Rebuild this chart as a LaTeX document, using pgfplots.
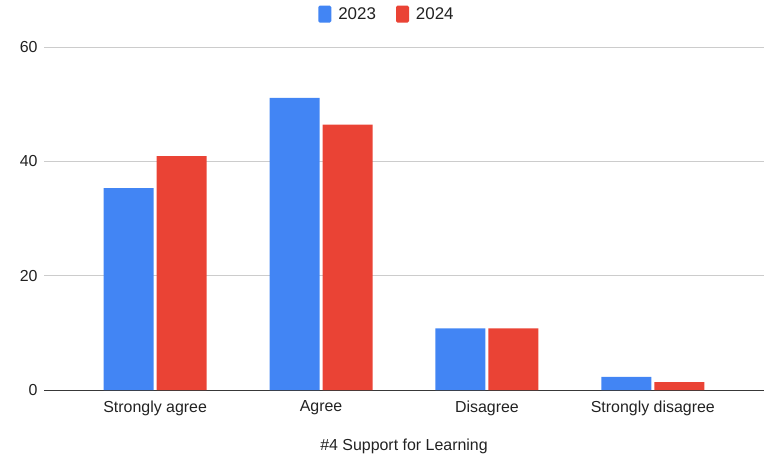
\documentclass[border=0pt]{standalone}
\usepackage{pgfplots}
\pgfplotsset{compat=1.18}
\usepackage{fontspec}
\setmainfont{Liberation Sans}
\definecolor{gblue}{HTML}{4285F4}
\definecolor{gred}{HTML}{EA4335}
\definecolor{ggrid}{HTML}{CCCCCC}
\definecolor{gtext}{HTML}{222222}
\begin{document}
\begin{tikzpicture}
\begin{axis}[
  name=ax,
  scale only axis,
  width=720bp, height=343bp,
  ybar=3bp, bar width=50bp,
  xmin=-0.67, xmax=3.67,
  ymin=0, ymax=60,
  xtick={0,1,2,3},
  xticklabels={Strongly agree,Agree,Disagree,Strongly disagree},
  ytick={0,20,40,60},
  ymajorgrids, grid style={ggrid, line width=0.8pt},
  axis x line*=bottom, axis y line*=left,
  y axis line style={draw=none},
  x axis line style={draw=gtext!90, line width=1pt, -},
  major tick length=0pt,
  tick label style={font=\fontsize{16}{19}\selectfont, text=gtext},
  yticklabel style={xshift=-3bp},
  xticklabel style={yshift=-7bp},
  xlabel={\#4 Support for Learning},
  xlabel style={font=\fontsize{16}{19}\selectfont, text=gtext, yshift=-17bp},
  /pgf/number format/assume math mode=true,
  legend style={at={(0.5,1)}, anchor=south, yshift=22bp, xshift=-17bp, draw=none,
    font=\fontsize{17}{20}\selectfont, text=gtext,
    /tikz/every even column/.append style={column sep=18bp},
    /tikz/every odd column/.append style={column sep=5bp}},
  legend columns=2,
  legend image code/.code={\fill[#1, rounded corners=1.5bp] (0bp,-8.5bp) rectangle (13bp,8.5bp);},
]
\addplot[fill=gblue, draw=none] coordinates {(0,35.3) (1,51.1) (2,10.8) (3,2.3)};
\addplot[fill=gred, draw=none] coordinates {(0,40.9) (1,46.4) (2,10.8) (3,1.4)};
\legend{2023,2024}
\end{axis}
\path[use as bounding box] ([shift={(-44bp,-66bp)}]ax.south west) rectangle ([shift={(10bp,47bp)}]ax.north east);
\end{tikzpicture}
\end{document}
